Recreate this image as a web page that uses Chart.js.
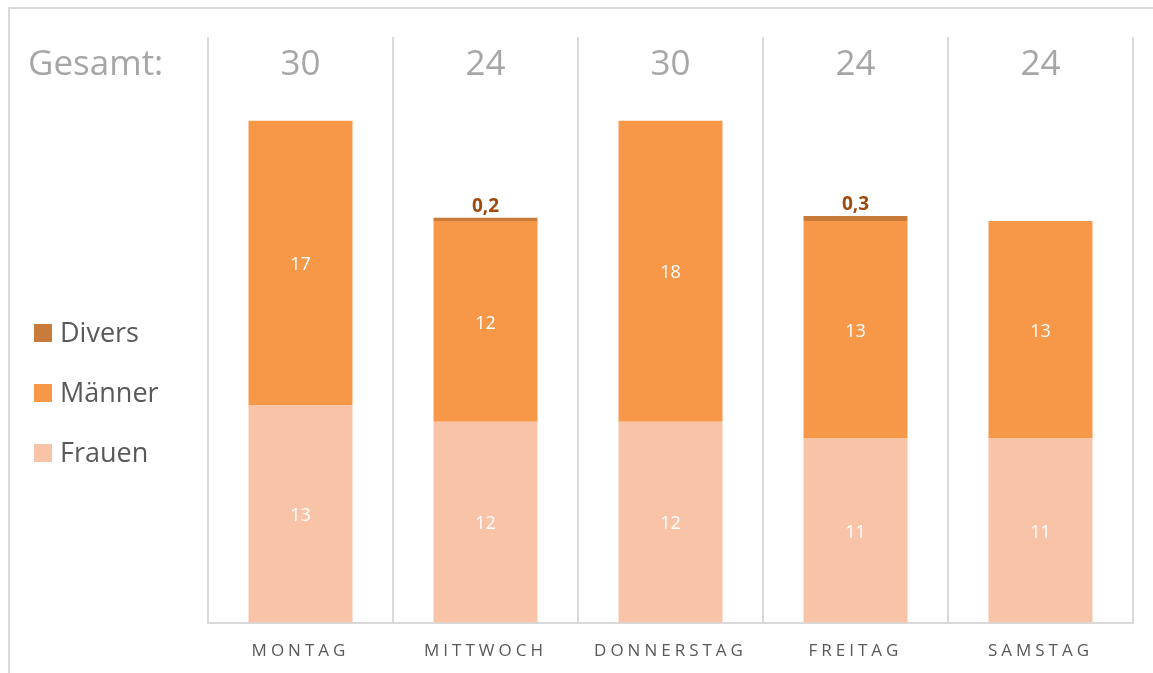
<!DOCTYPE html>
<html>
<head>
<meta charset="utf-8">
<script src="https://cdn.jsdelivr.net/npm/chart.js"></script>
<style>
  html, body { margin: 0; padding: 0; background: #fff; overflow: hidden; }
  #wrap { position: relative; width: 1153px; height: 673px; }
  #frame { position: absolute; left: 8px; top: 7px; width: 1170px; height: 690px; border: 2px solid #d9d9d9; box-sizing: border-box; }
  canvas { position: absolute; left: 0; top: 0; }
</style>
</head>
<body>
<div id="wrap">
  <div id="frame"></div>
  <canvas id="chart" width="1153" height="673"></canvas>
</div>
<script>
// ── Daten ────────────────────────────────────────────────
const days = ['MONTAG', 'MITTWOCH', 'DONNERSTAG', 'FREITAG', 'SAMSTAG'];
const frauen = [13, 12, 12, 11, 11];
const maenner = [17, 12, 18, 13, 13];
const divers = [0, 0.2, 0, 0.3, 0];
const seriesNames = ['Frauen', 'Männer', 'Divers'];
const seriesColors = ['#f9c3a8', '#f79848', '#c97b3b'];
const yMax = 35;

const FONT = '"Open Sans", "Noto Sans", sans-serif';

const fmt = v => String(v).replace('.', ',');

// Buchstabenabstand nur für die X-Achse
const spacingPlugin = {
  id: 'spacing',
  beforeDraw(chart) { chart.ctx.letterSpacing = '4px'; },
  beforeDatasetsDraw(chart) { chart.ctx.letterSpacing = '0px'; }
};

// ── Beschriftungen, Gesamt-Zeile, Legende ────────────────
const labelsPlugin = {
  id: 'labels',
  afterDatasetsDraw(chart) {
    const ctx = chart.ctx;
    ctx.save();
    ctx.textAlign = 'center';
    ctx.textBaseline = 'middle';
    chart.data.datasets.forEach((ds, di) => {
      const meta = chart.getDatasetMeta(di);
      meta.data.forEach((el, i) => {
        const v = ds.data[i];
        if (!v) return;
        if (di < 2) {
          ctx.fillStyle = '#ffffff';
          ctx.font = `18px ${FONT}`;
          ctx.fillText(fmt(v), el.x, (el.y + el.base) / 2 + 2);
        } else {
          ctx.fillStyle = '#9e4a0e';
          ctx.font = `bold 19px ${FONT}`;
          ctx.fillText(fmt(v), el.x, el.y - 11);
        }
      });
    });
    ctx.restore();
  },
  afterDraw(chart) {
    const ctx = chart.ctx;
    const x = chart.scales.x;
    ctx.save();
    ctx.letterSpacing = '0px';
    ctx.textBaseline = 'middle';
    ctx.fillStyle = '#a6a6a6';
    ctx.font = `35px ${FONT}`;
    ctx.textAlign = 'left';
    ctx.fillText('Gesamt:', 28, 65);
    ctx.textAlign = 'center';
    days.forEach((d, i) => {
      const total = Math.round(frauen[i] + maenner[i] + divers[i]);
      ctx.fillText(String(total), x.getPixelForValue(i), 65);
    });

    // Legende (umgekehrte Reihenfolge)
    ctx.font = `27px ${FONT}`;
    ctx.textAlign = 'left';
    const order = [2, 1, 0];
    order.forEach((s, k) => {
      const y = 333 + k * 60;
      ctx.fillStyle = seriesColors[s];
      ctx.fillRect(34, y - 9, 18, 18);
      ctx.fillStyle = '#595959';
      ctx.fillText(seriesNames[s], 60, y + 1);
    });
    ctx.restore();
  }
};

new Chart(document.getElementById('chart'), {
  type: 'bar',
  data: {
    labels: days,
    datasets: [
      { label: seriesNames[0], data: frauen, backgroundColor: seriesColors[0] },
      { label: seriesNames[1], data: maenner, backgroundColor: seriesColors[1] },
      { label: seriesNames[2], data: divers, backgroundColor: seriesColors[2] }
    ]
  },
  options: {
    responsive: false,
    animation: false,
    layout: { padding: { left: 208, right: 20, top: 37, bottom: -6 } },
    datasets: { bar: { barPercentage: 0.562, categoryPercentage: 1, borderWidth: 0 } },
    plugins: { legend: { display: false }, tooltip: { enabled: false } },
    scales: {
      x: {
        stacked: true,
        grid: { offset: true, color: '#d9d9d9', lineWidth: 2, drawTicks: false },
        border: { color: '#d9d9d9', width: 2 },
        ticks: { color: '#595959', font: { family: FONT, size: 17 }, padding: 18 }
      },
      y: { stacked: true, display: false, min: 0, max: yMax }
    }
  },
  plugins: [spacingPlugin, labelsPlugin]
});
</script>
</body>
</html>
